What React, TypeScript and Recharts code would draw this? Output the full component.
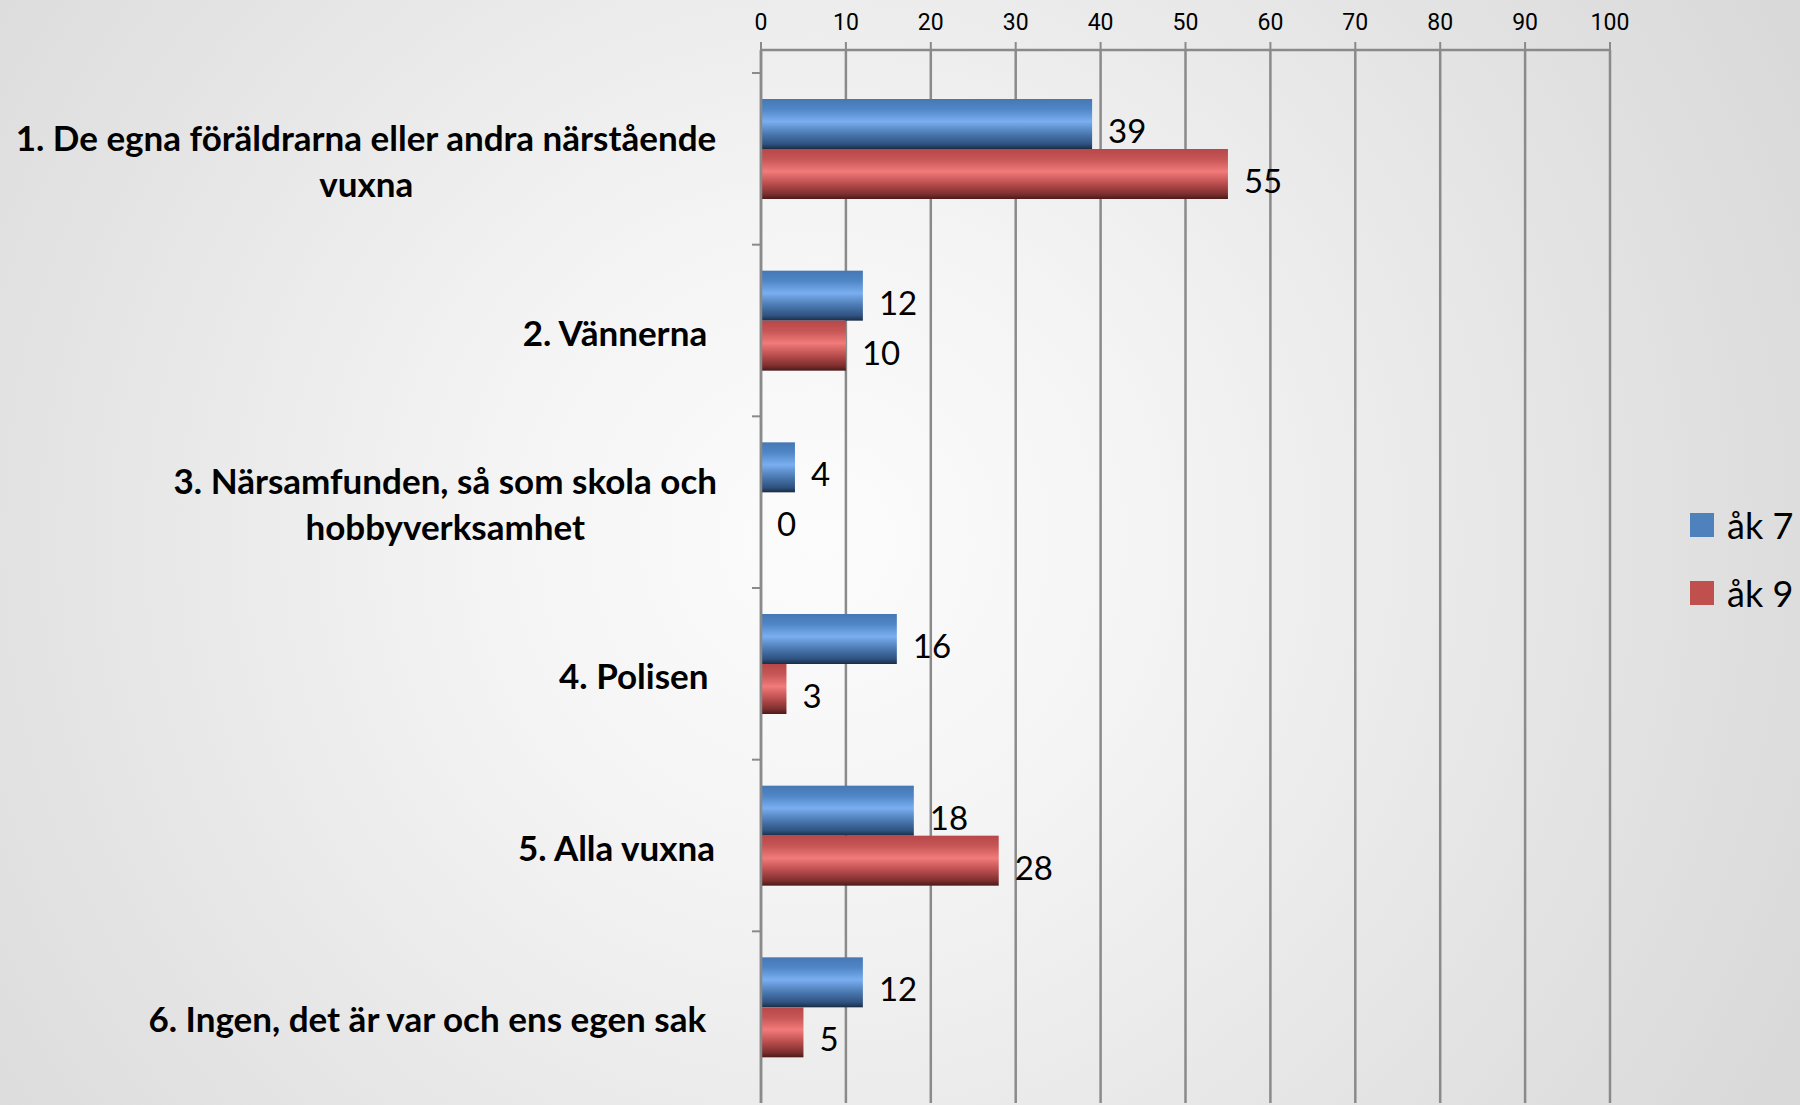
import { BarChart, Bar, XAxis, YAxis, CartesianGrid, LabelList } from 'recharts'

const categories = [
    '1. De egna föräldrarna eller andra närstående\nvuxna',
    '2. Vännerna ',
    '3. Närsamfunden, så som skola och\nhobbyverksamhet',
    '4. Polisen ',
    '5. Alla vuxna',
    '6. Ingen, det är var och ens egen sak ',
]
const ak7 = [39, 12, 4, 16, 18, 12]
const ak9 = [55, 10, 0, 3, 28, 5]
const seriesNames = ['åk 7', 'åk 9']
const xTicks = [0, 10, 20, 30, 40, 50, 60, 70, 80, 90, 100]

const data = categories.map((name, i) => ({ name, ak7: ak7[i], ak9: ak9[i] }))

const GRID = '#8a8a8a'
const BAR_SHIFT = -10
const LABEL_FONT = '700 35px Lato'

let ctx: CanvasRenderingContext2D | null = null
const measure = (s: string) => {
    if (!ctx) ctx = document.createElement('canvas').getContext('2d')
    if (!ctx) return s.length * 17
    ctx.font = LABEL_FONT
    return ctx.measureText(s).width
}

const CategoryTick = (props: any) => {
    const { x, y, payload } = props
    const lines = String(payload.value).split('\n')
    const widths = lines.map(measure)
    const block = Math.max(...widths)
    const right = x - 44
    const mid = right - block / 2
    const half = payload.offset ?? 85.8
    return (
        <g>
            <line x1={x - 9} x2={x} y1={y - half} y2={y - half} stroke={GRID} strokeWidth={2} />
            {lines.map((l, i) => (
                <text
                    key={i}
                    x={mid - widths[i] / 2}
                    y={y + 1 + (i - (lines.length - 1) / 2) * 46}
                    dominantBaseline="central"
                    style={{ font: LABEL_FONT, whiteSpace: 'pre' }}
                    fill="#000"
                >
                    {l}
                </text>
            ))}
        </g>
    )
}

const shiftedBar = (fill: string) => (props: any) => {
    const { x, y, width, height } = props
    if (!width || width <= 0) return <g />
    return <rect x={x} y={y + BAR_SHIFT} width={width} height={height} fill={fill} />
}

const valueLabel = (props: any) => {
    const { x, y, width, height, value } = props
    return (
        <text
            x={x + width + 16}
            y={y + BAR_SHIFT + height / 2 + 6}
            dominantBaseline="central"
            fontFamily="Lato"
            fontSize={33}
            fill="#000"
        >
            {value}
        </text>
    )
}

const legendColors = ['#4f81bd', '#c0504d']

export default function App() {
    return (
        <div
            style={{
                position: 'relative',
                width: 1800,
                height: 1105,
                overflow: 'hidden',
                background: 'radial-gradient(circle 1100px at 820px 540px, #fcfcfc 0%, #f4f4f4 30%, #e4e4e4 70%, #d9d9d9 100%)',
            }}
        >
            <style>{'body{margin:0}'}</style>
            <BarChart
                width={1800}
                height={1105}
                data={data}
                layout="vertical"
                margin={{ top: 0, right: 190, bottom: 2, left: 0 }}
                barCategoryGap={36}
                barGap={0}
            >
                <defs>
                    <linearGradient id="gBlue" x1="0" y1="0" x2="0" y2="1">
                        <stop offset="0" stopColor="#4677b3" />
                        <stop offset="0.2" stopColor="#4f86c6" />
                        <stop offset="0.45" stopColor="#7aaef0" />
                        <stop offset="0.7" stopColor="#4a78b0" />
                        <stop offset="0.9" stopColor="#2f5280" />
                        <stop offset="1" stopColor="#1b2c44" />
                    </linearGradient>
                    <linearGradient id="gRed" x1="0" y1="0" x2="0" y2="1">
                        <stop offset="0" stopColor="#b8474a" />
                        <stop offset="0.2" stopColor="#c65555" />
                        <stop offset="0.45" stopColor="#f27a7a" />
                        <stop offset="0.7" stopColor="#b84c4c" />
                        <stop offset="0.9" stopColor="#7e2f2f" />
                        <stop offset="1" stopColor="#4a1a1a" />
                    </linearGradient>
                </defs>
                <CartesianGrid horizontal={false} stroke={GRID} strokeWidth={2.5} />
                <XAxis
                    type="number"
                    orientation="top"
                    domain={[0, 100]}
                    ticks={xTicks}
                    interval={0}
                    height={50}
                    tickSize={8}
                    tickMargin={12}
                    axisLine={{ stroke: GRID, strokeWidth: 2.5 }}
                    tickLine={{ stroke: GRID, strokeWidth: 2 }}
                    tick={{ fill: '#000', fontSize: 23, fontFamily: 'Roboto' }}
                />
                <YAxis
                    type="category"
                    dataKey="name"
                    width={761}
                    interval={0}
                    tickLine={false}
                    tickSize={0}
                    tickMargin={0}
                    padding={{ top: 23, bottom: 0 }}
                    axisLine={{ stroke: GRID, strokeWidth: 2.5 }}
                    tick={<CategoryTick />}
                />
                <Bar dataKey="ak7" name={seriesNames[0]} fill="url(#gBlue)" shape={shiftedBar('url(#gBlue)')} isAnimationActive={false}>
                    <LabelList dataKey="ak7" content={valueLabel} />
                </Bar>
                <Bar dataKey="ak9" name={seriesNames[1]} fill="url(#gRed)" shape={shiftedBar('url(#gRed)')} isAnimationActive={false}>
                    <LabelList dataKey="ak9" content={valueLabel} />
                </Bar>
            </BarChart>
            <div style={{ position: 'absolute', left: 1690, top: 505, fontFamily: 'Lato', fontSize: 36, color: '#000' }}>
                {seriesNames.map((s, i) => (
                    <div key={s} style={{ display: 'flex', alignItems: 'center', height: 40, marginBottom: 28, whiteSpace: 'nowrap' }}>
                        <span style={{ display: 'inline-block', width: 24, height: 24, background: legendColors[i], marginRight: 13 }} />
                        <span>{s}</span>
                    </div>
                ))}
            </div>
        </div>
    )
}
